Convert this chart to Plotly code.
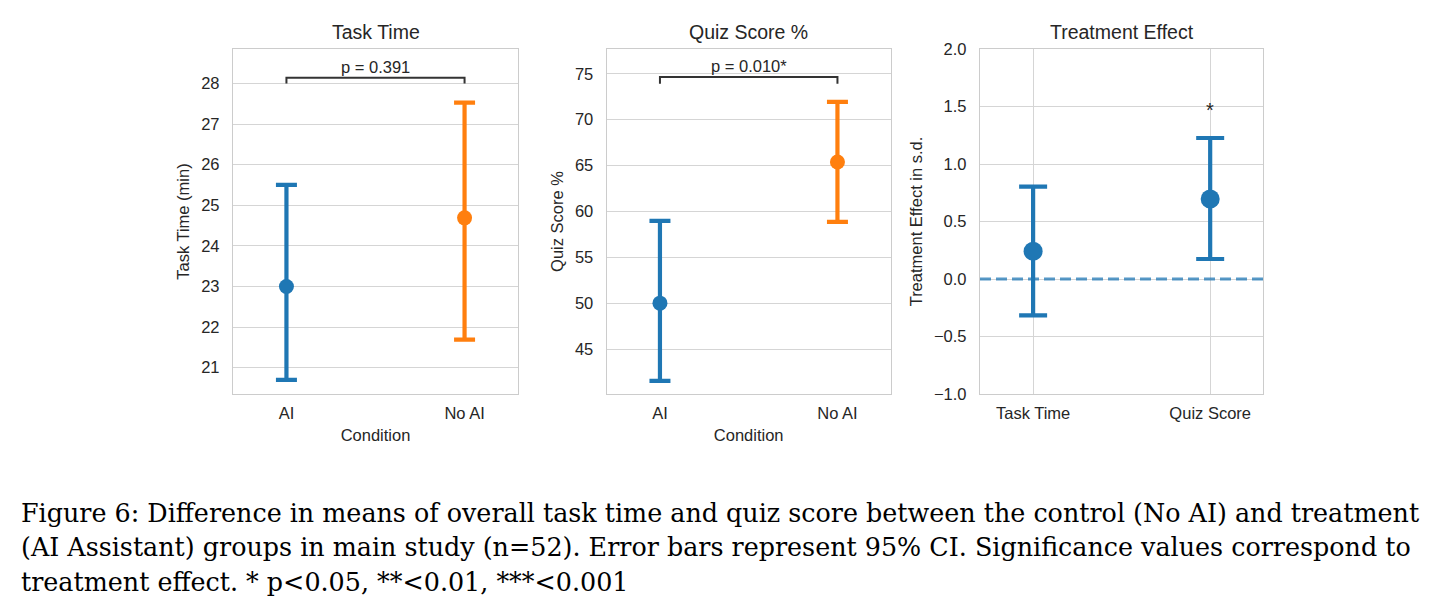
import plotly.graph_objects as go

# ---------------- data ----------------
conditions = ["AI", "No AI"]
colors = ["#1f77b4", "#ff7f0e"]

task_mean = [23.0, 24.69]
task_low = [20.70, 21.69]
task_high = [25.50, 27.53]
task_p = "p = 0.391"
task_bracket = [28.0, 28.14]

quiz_mean = [50.0, 65.38]
quiz_low = [41.53, 58.85]
quiz_high = [58.96, 71.94]
quiz_p = "p = 0.010*"
quiz_bracket = [73.9, 74.64]

effect_labels = ["Task Time", "Quiz Score"]
effect_mean = [0.241, 0.696]
effect_low = [-0.316, 0.174]
effect_high = [0.803, 1.226]
effect_sig = ["", "*"]
zero_level = 0.0

caption_lines = [
    "Figure 6: Difference in means of overall task time and quiz score between the control (No AI) and treatment",
    "(AI Assistant) groups in main study (n=52). Error bars represent 95% CI. Significance values correspond to",
    "treatment effect. * p<0.05, **<0.01, ***<0.001",
]

# ---------------- layout helpers ----------------
W, H = 1439, 615
TXT = "#262626"
GRID = "#d5d5d5"
EDGE = "#cccccc"
FONT = "Liberation Sans, Arial, sans-serif"
FS = 16.5

def px_x(p):
    return p / W

def px_y(p):
    return 1 - p / H

fig = go.Figure()

def add_group(xa, ya, cats, mean, low, high, cols, msize, capw):
    for i, c in enumerate(cats):
        fig.add_trace(go.Scatter(
            x=[c], y=[mean[i]], mode="markers", xaxis=xa, yaxis=ya,
            marker=dict(color=cols[i], size=msize),
            error_y=dict(type="data", symmetric=False,
                         array=[high[i] - mean[i]], arrayminus=[mean[i] - low[i]],
                         color=cols[i], thickness=4.2, width=capw),
            showlegend=False, hoverinfo="skip"))

add_group("x", "y", conditions, task_mean, task_low, task_high, colors, 15, 10.5)
add_group("x2", "y2", conditions, quiz_mean, quiz_low, quiz_high, colors, 15, 10.5)
add_group("x3", "y3", effect_labels, effect_mean, effect_low, effect_high,
          [colors[0], colors[0]], 19, 14)

# brackets
for xa, ya, br in [("x", "y", task_bracket), ("x2", "y2", quiz_bracket)]:
    fig.add_trace(go.Scatter(
        x=[conditions[0], conditions[0], conditions[1], conditions[1]],
        y=[br[0], br[1], br[1], br[0]], mode="lines", xaxis=xa, yaxis=ya,
        line=dict(color="#333333", width=2), showlegend=False, hoverinfo="skip"))

annotations = []
for xr, yr, br, txt in [("x", "y", task_bracket, task_p), ("x2", "y2", quiz_bracket, quiz_p)]:
    annotations.append(dict(x=0.5, xref=xr + " domain", y=br[1], yref=yr,
                            text=txt, showarrow=False, yanchor="bottom", yshift=0,
                            font=dict(size=FS, color=TXT, family=FONT)))

for i, s in enumerate(effect_sig):
    if s:
        annotations.append(dict(x=effect_labels[i], xref="x3", y=effect_high[i] + 0.24, yref="y3",
                                text=s, showarrow=False, yanchor="middle",
                                font=dict(size=20, color=TXT, family=FONT)))

# subplot titles
dom = [(233, 518), (606.7, 890.7), (980, 1263.3)]
for (a, b), t in zip(dom, ["Task Time", "Quiz Score %", "Treatment Effect"]):
    annotations.append(dict(x=px_x((a + b) / 2), xref="paper", y=px_y(32), yref="paper",
                            text=t, showarrow=False, yanchor="middle", xanchor="center",
                            font=dict(size=19.5, color=TXT, family=FONT)))

# caption
for i, line in enumerate(caption_lines):
    annotations.append(dict(x=px_x(19), xref="paper", y=px_y(512.5 + 34.5 * i), yref="paper",
                            text=line, showarrow=False, xanchor="left", yanchor="middle",
                            font=dict(size=25.4, color="#000000",
                                      family="DejaVu Serif, Liberation Serif, serif")))

# dashed zero reference line
shapes = [dict(type="line", xref="x3 domain", yref="y3", x0=0, x1=1,
               y0=zero_level, y1=zero_level,
               line=dict(color="rgba(31,119,180,0.75)", width=3, dash="11px,5px"),
               layer="above")]

ydom = [px_y(394), px_y(49)]

def xaxis(d, grid, title, anchor):
    return dict(domain=[px_x(d[0]), px_x(d[1])], anchor=anchor, range=[-0.3, 1.3],
                automargin=False,
                showgrid=grid, gridcolor=GRID, gridwidth=1,
                showline=True, mirror=True, linecolor=EDGE, linewidth=1.3,
                ticks="outside", ticklen=4, tickcolor="rgba(0,0,0,0)",
                tickfont=dict(size=FS, color=TXT, family=FONT),
                title=dict(text=title, standoff=8, font=dict(size=FS, color=TXT, family=FONT)),
                zeroline=False, fixedrange=True)

def yaxis(rng, dtick, title, anchor, fmt=None):
    d = dict(domain=ydom, range=rng, dtick=dtick, tick0=0, anchor=anchor,
             automargin=False,
             showgrid=True, gridcolor=GRID, gridwidth=1,
             showline=True, mirror=True, linecolor=EDGE, linewidth=1.3,
             ticks="outside", ticklen=9, tickcolor="rgba(0,0,0,0)",
             tickfont=dict(size=FS, color=TXT, family=FONT),
             title=dict(text=title, standoff=7, font=dict(size=FS, color=TXT, family=FONT)),
             zeroline=False, fixedrange=True)
    if fmt:
        d["tickformat"] = fmt
    return d

xa1 = xaxis(dom[0], False, "Condition", "y")
xa2 = xaxis(dom[1], False, "Condition", "y2")
xa3 = xaxis(dom[2], True, "", "y3")
ya1 = yaxis([20.35, 28.85], 1, "Task Time (min)", "x")
ya2 = yaxis([40.1, 77.7], 5, "Quiz Score %", "x2")
ya3 = yaxis([-1.0, 2.0], 0.5, "Treatment Effect in s.d.", "x3", ".1f")

fig.update_layout(
    width=W, height=H, autosize=False,
    margin=dict(l=0, r=0, t=0, b=0),
    paper_bgcolor="white", plot_bgcolor="white",
    xaxis=xa1, xaxis2=xa2, xaxis3=xa3,
    yaxis=ya1, yaxis2=ya2, yaxis3=ya3,
    annotations=annotations, shapes=shapes,
    showlegend=False,
)

fig.write_html("out.html", config={"displayModeBar": False})
